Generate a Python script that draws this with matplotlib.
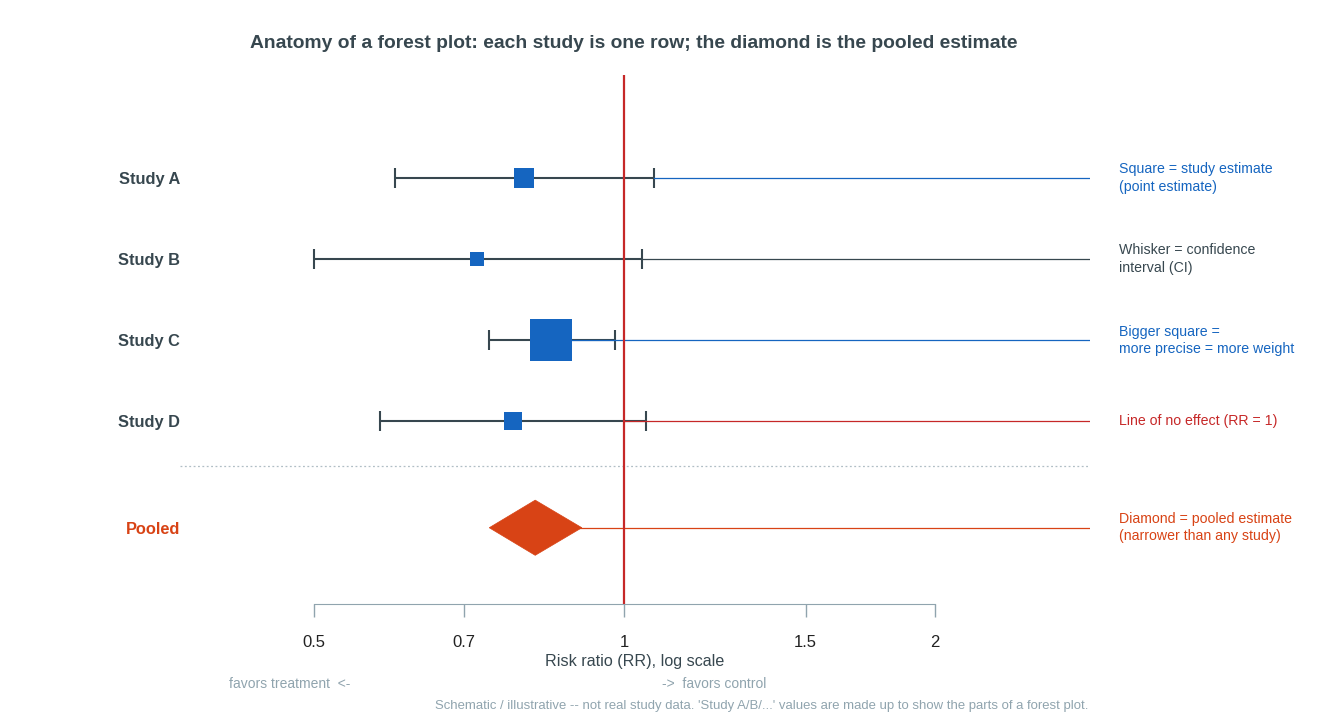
import numpy as np
import matplotlib.pyplot as plt
from matplotlib.patches import Polygon

plt.rcParams['font.family'] = ['Liberation Sans', 'DejaVu Sans']

# study data (risk ratios)
studies = ['Study A', 'Study B', 'Study C', 'Study D']
rr = [0.80, 0.72, 0.85, 0.78]
ci_low = [0.60, 0.50, 0.74, 0.58]
ci_high = [1.07, 1.04, 0.98, 1.05]
weights = [14.5, 8.1, 64.5, 12.9]

pooled_label = 'Pooled'
pooled_rr = 0.82
pooled_low = 0.74
pooled_high = 0.91

ticks = [0.5, 0.7, 1, 1.5, 2]
tick_labels = ['0.5', '0.7', '1', '1.5', '2']

notes = ['Square = study estimate\n(point estimate)',
         'Whisker = confidence\ninterval (CI)',
         'Bigger square =\nmore precise = more weight',
         'Line of no effect (RR = 1)',
         'Diamond = pooled estimate\n(narrower than any study)']

DARK = '#37474f'
BLUE = '#1565c0'
RED = '#c62828'
ORANGE = '#d84315'
GREY = '#90a4ae'
note_colors = [BLUE, DARK, BLUE, RED, ORANGE]

rows = [4, 3, 2, 1]
pooled_y = -0.31
sep_y = 0.457
x_right = 2.83

fig = plt.figure(figsize=(13.2, 7.2), dpi=100)
ax = fig.add_axes([180 / 1320, 1 - 604 / 720, 910 / 1320, 529 / 720])
ax.set_xscale('log')
ax.set_xlim(0.371, x_right)
ax.set_ylim(-1.25, 5.27)

# leader lines to the notes on the right
leader_from = [ci_high[0], ci_high[1], rr[2], 1.0, pooled_rr]
leader_y = rows + [pooled_y]
for xs, y, c in zip(leader_from, leader_y, note_colors):
    ax.plot([xs, x_right], [y, y], color=c, lw=0.9, zorder=3)

# whiskers
err = [np.array(rr) - np.array(ci_low), np.array(ci_high) - np.array(rr)]
ax.errorbar(rr, rows, xerr=err, fmt='none', ecolor=DARK, elinewidth=1.5,
            capsize=7.4, capthick=1.5, zorder=2)

# squares sized by weight (area ~ weight)
wmax = max(weights)
for x, y, w in zip(rr, rows, weights):
    side = 29.6 * np.sqrt(w / wmax)
    ax.plot(x, y, marker='s', ms=side, color=BLUE, mec=BLUE, mew=0, zorder=4)

# pooled diamond
h = 0.34
diamond = Polygon([(pooled_low, pooled_y), (pooled_rr, pooled_y + h),
                   (pooled_high, pooled_y), (pooled_rr, pooled_y - h)],
                  closed=True, fc=ORANGE, ec=ORANGE, lw=0.5, zorder=4)
ax.add_patch(diamond)

# line of no effect
ax.axvline(1, color=RED, lw=1.6, zorder=5)

# separator
ax.axhline(sep_y, color='#b0bec5', lw=0.9, ls=(0, (1.5, 2)), zorder=1)

# notes on the right
for y, txt, c in zip(leader_y, notes, note_colors):
    ax.text(1 + 29 / 910, y, txt, transform=ax.get_yaxis_transform(), color=c,
            fontsize=10.2, va='center', ha='left', linespacing=1.32)

# y labels
ax.set_yticks(rows + [pooled_y])
ax.set_yticklabels(studies + [pooled_label], fontweight='bold', fontsize=11.8)
for lab in ax.get_yticklabels():
    lab.set_color(DARK)
ax.get_yticklabels()[-1].set_color(ORANGE)
ax.tick_params(axis='y', length=0, pad=0)

# x axis
for s in ['top', 'right', 'left']:
    ax.spines[s].set_visible(False)
ax.spines['bottom'].set_bounds(0.5, 2)
ax.spines['bottom'].set_color(GREY)
ax.set_xticks(ticks)
ax.set_xticklabels(tick_labels)
ax.minorticks_off()
ax.tick_params(axis='x', direction='out', length=9.2, color=GREY, width=1,
               pad=13, labelsize=12, labelcolor='#222222')
ax.set_xlabel('Risk ratio (RR), log scale', fontsize=11.6, color=DARK, labelpad=3)

fig.text(634 / 1320, 1 - 43 / 720,
         'Anatomy of a forest plot: each study is one row; the diamond is the pooled estimate',
         ha='center', va='center', fontsize=13.9, fontweight='bold', color=DARK)
fig.text(350 / 1320, 1 - 684 / 720, 'favors treatment  <-', ha='right', va='center',
         fontsize=10, color=GREY)
fig.text(662 / 1320, 1 - 684 / 720, '->  favors control', ha='left', va='center',
         fontsize=10, color=GREY)
fig.text(1088 / 1320, 1 - 706 / 720,
         "Schematic / illustrative -- not real study data. 'Study A/B/...' values are made up to show the parts of a forest plot.",
         ha='right', va='center', fontsize=9.45, color=GREY)

fig.savefig('out.png', dpi=100)
